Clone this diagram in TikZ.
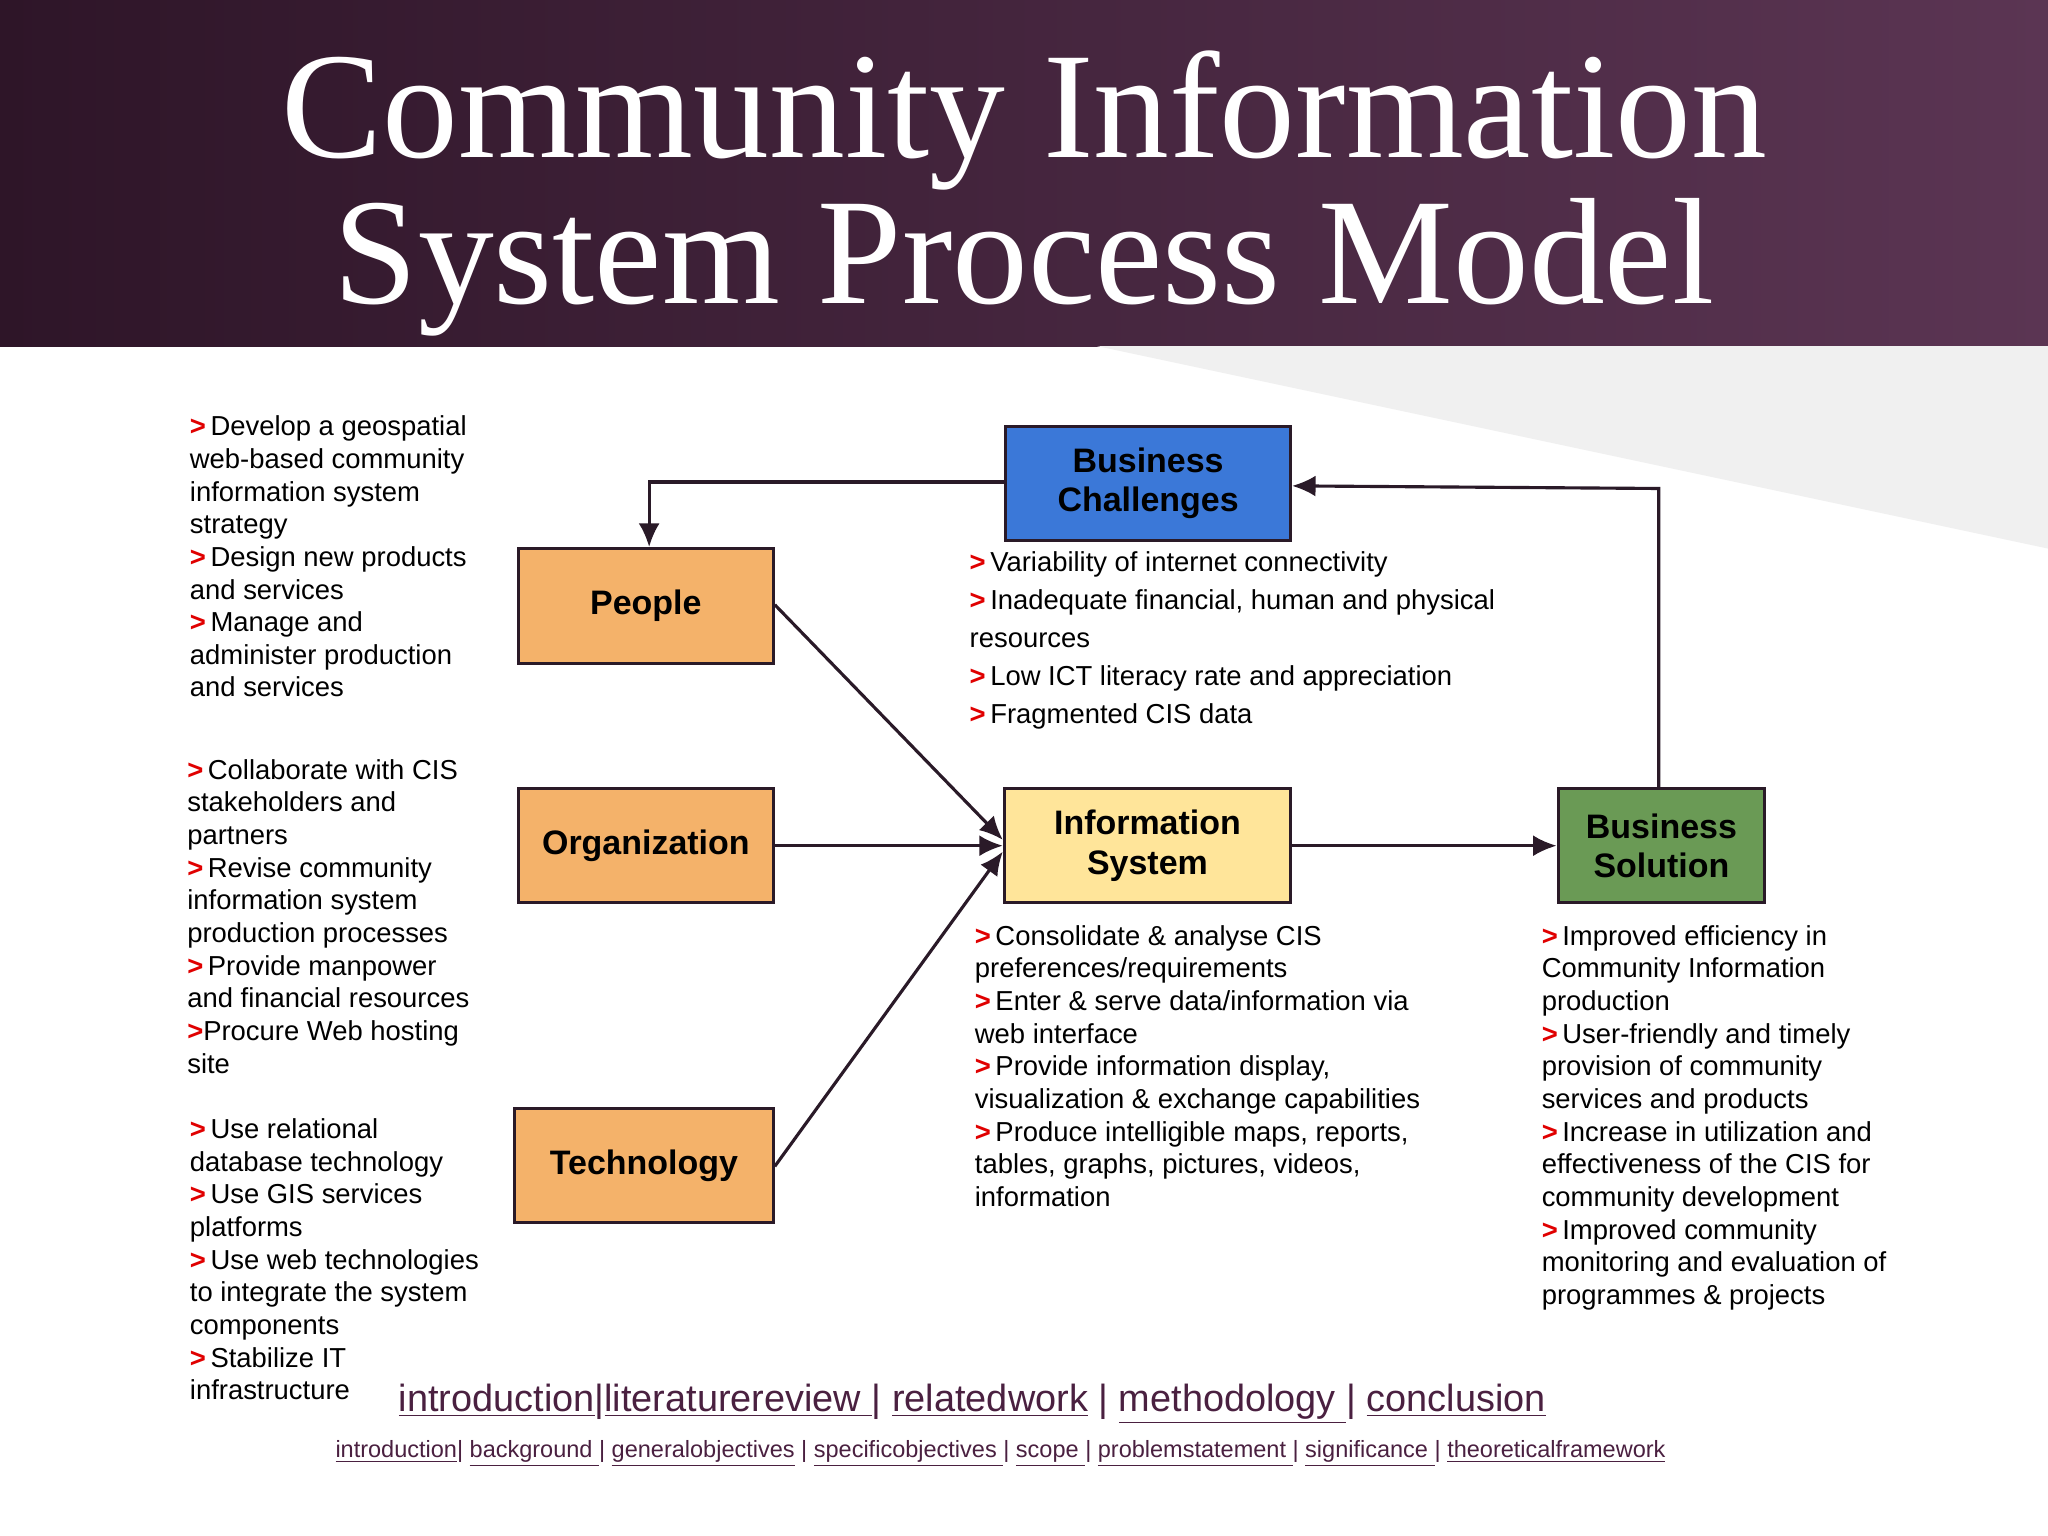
\documentclass[tikz,border=0pt]{standalone}
\usepackage{fontspec}
\setmainfont{Liberation Sans}
\newfontfamily\titlefont{Liberation Serif}
\usetikzlibrary{arrows.meta}
\definecolor{hdrA}{HTML}{2E1528}
\definecolor{hdrB}{HTML}{5B3553}
\definecolor{bblue}{HTML}{3B78D8}
\definecolor{borange}{HTML}{F4B26A}
\definecolor{byellow}{HTML}{FFE59A}
\definecolor{bgreen}{HTML}{6A9A55}
\definecolor{mk}{HTML}{E00000}
\definecolor{lnk}{HTML}{4A2040}
\definecolor{arr}{HTML}{2A1A28}
\newcommand{\mkr}{\textcolor{mk}{\textbf{>}}\,}
\tikzset{
  box/.style={draw=arr,line width=1.2pt,font=\fontsize{13}{15}\selectfont\bfseries,align=center,inner sep=0pt},
  lst/.style={anchor=north west,align=left,inner sep=0pt,font=\fontsize{10.5}{12.5}\selectfont},
  con/.style={draw=arr,line width=1.2pt,-{Latex[length=9pt,width=8pt]}}
}
\begin{document}
\begin{tikzpicture}[x=0.5pt,y=-0.5pt]
\useasboundingbox (0,0) rectangle (1568,1176);
\fill[white] (0,0) rectangle (1568,1176);
\shade[left color=hdrA,right color=hdrB] (0,0) rectangle (1568,265);
\fill[black!6] (840,265) -- (1568,265) -- (1568,420) -- cycle;
\node[text=white,font=\titlefont\fontsize{58}{58}\selectfont] (t1) at (784,92) {Community Information};
\node[text=white,font=\titlefont\fontsize{58}{58}\selectfont] (t2) at (784,205) {System Process Model};
% boxes
\node[box,fill=bblue,minimum width=109pt,minimum height=43.5pt] (bc) at (879,370) {Business\\Challenges};
\node[box,fill=borange,minimum width=97.5pt,minimum height=44pt] (pe) at (494.5,464) {People};
\node[box,fill=borange,minimum width=97.5pt,minimum height=43.5pt] (or) at (494.5,647.5) {Organization};
\node[box,fill=borange,minimum width=99pt,minimum height=43.5pt] (te) at (493,892.5) {Technology};
\node[box,fill=byellow,minimum width=109.5pt,minimum height=43.5pt] (is) at (878.5,647.5) {Information\\System};
\node[box,fill=bgreen,minimum width=79pt,minimum height=43.5pt] (bs) at (1272,647.5) {Business\\Solution};
% connectors
\draw[con] (bc.west |- 0,369) -- (497,369) -- (pe.north -| 497,0);
\draw[con] (1270,604) -- (1270,374) -- (bc.east |- 0,372);
\draw[con] (pe.east |- 0,463) -- (is.west |- 0,643);
\draw[con] (or) -- (is);
\draw[con] (te.east |- 0,893) -- (is.west |- 0,652);
\draw[con] (is) -- (bs);
% texts
\node[lst] (l1) at (145,318) {\mkr Develop a geospatial\\web-based community\\information system\\strategy\\\mkr Design new products\\and services\\\mkr Manage and\\administer production\\and services};
\node[lst] (l2) at (143,581) {\mkr Collaborate with CIS\\stakeholders and\\partners\\\mkr Revise community\\information system\\production processes\\\mkr Provide manpower\\and financial resources\\\textcolor{mk}{\textbf{>}}Procure Web hosting\\site};
\node[lst] (l3) at (145,856) {\mkr Use relational\\database technology\\\mkr Use GIS services\\platforms\\\mkr Use web technologies\\to integrate the system\\components\\\mkr Stabilize IT\\infrastructure};
\node[lst,font=\fontsize{10.5}{14.5}\selectfont] (l4) at (742,422) {\mkr Variability of internet connectivity\\\mkr Inadequate financial, human and physical\\resources\\\mkr Low ICT literacy rate and appreciation\\\mkr Fragmented CIS data};
\node[lst] (l5) at (746,708) {\mkr Consolidate \& analyse CIS\\preferences/requirements\\\mkr Enter \& serve data/information via\\web interface\\\mkr Provide information display,\\visualization \& exchange capabilities\\\mkr Produce intelligible maps, reports,\\tables, graphs, pictures, videos,\\information};
\node[lst] (l6) at (1180,708) {\mkr Improved efficiency in\\Community Information\\production\\\mkr User-friendly and timely\\provision of community\\services and products\\\mkr Increase in utilization and\\effectiveness of the CIS for\\community development\\\mkr Improved community\\monitoring and evaluation of\\programmes \& projects};
\node[anchor=west,inner sep=0pt,text=lnk,font=\fontsize{14.5}{16}\selectfont] (k1) at (305,1075) {\underline{introduction}|\underline{literaturereview }| \underline{relatedwork} | \underline{methodology }| \underline{conclusion}};
\node[inner sep=0pt,text=lnk,font=\fontsize{9}{11}\selectfont] (k2) at (766,1113) {\underline{introduction}| \underline{background }| \underline{generalobjectives} | \underline{specificobjectives }| \underline{scope }| \underline{problemstatement }| \underline{significance }| \underline{theoreticalframework}};
\end{tikzpicture}
\end{document}
